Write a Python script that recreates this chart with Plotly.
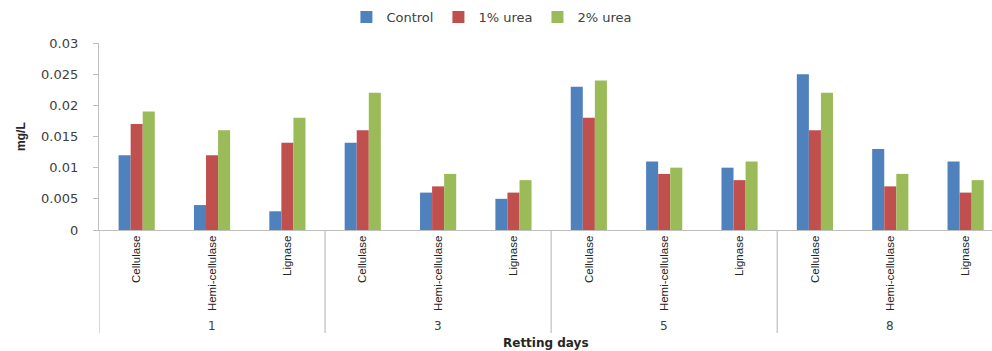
import plotly.graph_objects as go

# Retting days and enzymes (two-level category axis)
days = ["1", "3", "5", "8"]
enzymes = ["Cellulase", "Hemi-cellulase", "Lignase"]

# Enzyme activity (mg/L), ordered day by day, enzyme by enzyme
control = [0.012, 0.004, 0.003, 0.014, 0.006, 0.005, 0.023, 0.011, 0.010, 0.025, 0.013, 0.011]
urea_1 = [0.017, 0.012, 0.014, 0.016, 0.007, 0.006, 0.018, 0.009, 0.008, 0.016, 0.007, 0.006]
urea_2 = [0.019, 0.016, 0.018, 0.022, 0.009, 0.008, 0.024, 0.010, 0.011, 0.022, 0.009, 0.008]

series = [("Control", control, "#4F81BD"),
          ("1% urea", urea_1, "#C0504D"),
          ("2% urea", urea_2, "#9BBB59")]

labels = [e for _ in days for e in enzymes]
xs = list(range(len(labels)))

fig = go.Figure()
for name, vals, color in series:
    fig.add_trace(go.Bar(x=xs, y=vals, name=name, marker_color=color,
                         marker_line_width=0))

axis_grey = "#BFBFBF"
text_col = "#404040"
n = len(enzymes)
drop = -0.551  # how far the group dividers reach below the axis (paper units)

# group dividers below the category axis
for g in range(len(days) + 1):
    xpos = g * n - 0.5
    fig.add_shape(type="line", xref="x", yref="paper", x0=xpos, x1=xpos,
                  y0=0, y1=drop, line=dict(color=axis_grey, width=1.2))

# outer-level labels (days)
for g, d in enumerate(days):
    fig.add_annotation(x=g * n + (n - 1) / 2, y=-0.513, xref="x", yref="paper",
                       text=d, showarrow=False, yanchor="middle",
                       font=dict(family="DejaVu Sans", size=12, color=text_col))

fig.add_annotation(x=0.5, xref="paper", y=-0.604, yref="paper",
                   text="<b>Retting days</b>", showarrow=False, yanchor="middle",
                   font=dict(family="DejaVu Sans", size=12, color="#262626"))

# y-axis title
fig.add_annotation(x=-0.088, xref="paper", y=0.5, yref="paper",
                   text="<b>mg/L</b>", showarrow=False, textangle=-90,
                   xanchor="center", yanchor="middle",
                   font=dict(family="Liberation Sans", size=12, color="#262626"))

fig.update_layout(
    width=992, height=351,
    margin=dict(l=99, r=0, t=43, b=121, autoexpand=False),
    paper_bgcolor="white", plot_bgcolor="white",
    barmode="group", bargap=0.52, bargroupgap=0,
    showlegend=True,
    legend=dict(orientation="h", x=0.44, xanchor="center", y=1.139, yanchor="middle",
                font=dict(family="DejaVu Sans", size=13, color=text_col),
                itemwidth=30, tracegroupgap=0),
    xaxis=dict(range=[-0.5, 11.35], tickmode="array", tickvals=xs, ticktext=labels,
               tickangle=-90, showgrid=False, zeroline=False,
               showline=True, linecolor=axis_grey, linewidth=1.2, ticks="",
               tickfont=dict(family="Liberation Sans", size=11.5, color="#262626")),
    yaxis=dict(range=[0, 0.03], dtick=0.005, showgrid=False, zeroline=False,
               showline=True, linecolor=axis_grey, linewidth=1.2,
               ticks="outside", ticklen=5, tickcolor=axis_grey,
               ticklabelstandoff=12,
               tickformat="~g",
               tickfont=dict(family="DejaVu Sans", size=13, color=text_col)),
)

fig.write_html("out.html")
